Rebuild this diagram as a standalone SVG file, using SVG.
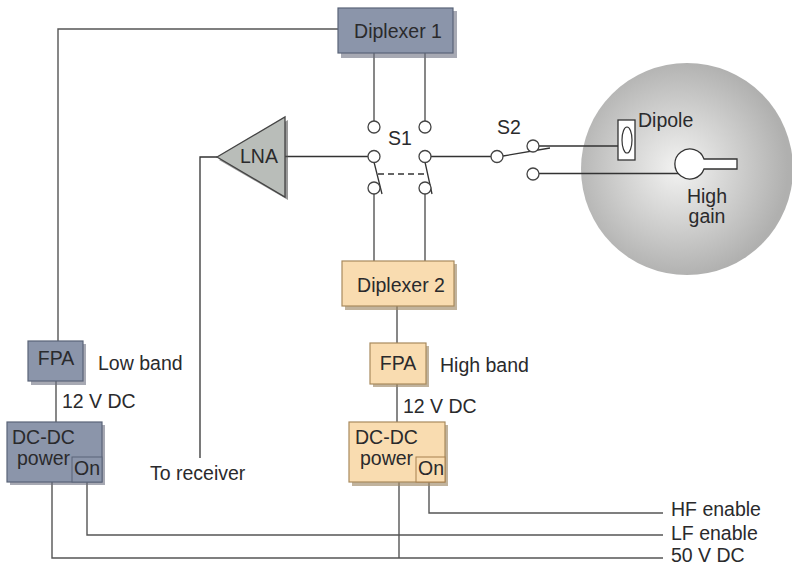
<svg xmlns="http://www.w3.org/2000/svg" width="792" height="566" viewBox="0 0 792 566">
<defs>
<radialGradient id="dish" gradientUnits="userSpaceOnUse" cx="678" cy="168" r="110">
<stop offset="0" stop-color="#f3f3f2"/><stop offset="0.5" stop-color="#d2d2d1"/><stop offset="1" stop-color="#b0b0af"/>
</radialGradient>
</defs>
<style>
text{font-family:"Liberation Sans",Arial,sans-serif;font-size:19.5px;fill:#2a2a2c}
.m{text-anchor:middle}
.w{fill:none;stroke:#555;stroke-width:1.4}
.t{fill:none;stroke:#333;stroke-width:1.3}
.c{fill:#fff;stroke:#444;stroke-width:1.3}
.sh{fill:#6d7080;opacity:.6}
.sho{fill:#a08a68;opacity:.65}
.b{fill:#8b95aa;stroke:#5a6478;stroke-width:1.2}
.o{fill:#f9dcb0;stroke:#a88a5e;stroke-width:1.2}
.bi{fill:#8b95aa;stroke:#5a6478;stroke-width:1}
.oi{fill:#f9dcb0;stroke:#a8804e;stroke-width:1}
</style>
<rect width="792" height="566" fill="#fff"/>
<g id="dish-disc"><circle cx="687" cy="169" r="106" fill="url(#dish)"/></g>
<g id="connectors">
<path class="w" d="M338 29H58V341"/>
<path class="w" d="M374 53V121M425 53V121M374 194V261M425 194V261"/>
<path class="t" d="M285 156.500H368M431 156.500H491"/>
<path class="t" d="M217 157H200V458"/>
<path class="t" d="M374 162L382 194M425 162L432 194"/>
<path class="t" d="M378 174H428" stroke-dasharray="6 4"/>
<path class="t" d="M503 156L550 148"/>
<path class="t" d="M534 146H618M539 173.500H680"/>
<path class="w" d="M397 306V343M397 384V422"/>
<path class="w" d="M56 381V422"/>
<path class="w" d="M429 482V513H663"/>
<path class="w" d="M87 482V535H663"/>
<path class="w" d="M52 482V558H663"/>
<path class="w" d="M399 482V558"/>
</g>
<g id="S1"><circle class="c" cx="374" cy="127" r="6"/><circle class="c" cx="425" cy="127" r="6"/><circle class="c" cx="374" cy="156.500" r="6"/><circle class="c" cx="425" cy="156.500" r="6"/><circle class="c" cx="374" cy="188" r="6"/><circle class="c" cx="425" cy="188" r="6"/><text x="388" y="145">S1</text></g>
<g id="S2"><circle class="c" cx="497" cy="156.500" r="6"/><circle class="c" cx="533" cy="146" r="6"/><circle class="c" cx="533" cy="174" r="6"/><text x="497" y="134">S2</text></g>
<g id="diplexer1"><rect class="sh" x="341" y="11" width="116" height="47"/><rect class="b" x="338" y="8" width="115" height="45"/><text class="m" x="398" y="38">Diplexer 1</text></g>
<g id="lna"><polygon points="219,160 288,120 288,200" fill="#555" opacity=".6"/><polygon points="217,157 285,117 285,197" fill="#b9bdb9" stroke="#444" stroke-width="1.3"/><text x="240" y="163">LNA</text></g>
<g id="dipole"><rect x="618" y="120" width="17" height="40" fill="#fff" stroke="#333" stroke-width="1.3"/><ellipse cx="627" cy="140" rx="5" ry="13" fill="none" stroke="#333" stroke-width="1.2"/><text x="638" y="127">Dipole</text></g>
<g id="high-gain"><path d="M704 159H737V169H704A15 15 0 1 1 704 159Z" fill="#fff" stroke="#333" stroke-width="1.3"/><text class="m" x="707" y="203">High</text><text class="m" x="707" y="223">gain</text></g>
<g id="diplexer2"><rect class="sho" x="345" y="264" width="112" height="46"/><rect class="o" x="342" y="261" width="112" height="45"/><text class="m" x="401" y="292">Diplexer 2</text></g>
<g id="fpa-high"><rect class="sho" x="373" y="346" width="56" height="41"/><rect class="o" x="370" y="343" width="56" height="41"/><text class="m" x="398" y="370">FPA</text><text x="440" y="372">High band</text></g>
<g id="dcdc-high"><rect class="sho" x="352" y="425" width="96" height="61"/><rect class="o" x="349" y="422" width="96" height="60"/><rect class="oi" x="416" y="457" width="29" height="25"/><text x="355" y="444">DC-DC</text><text x="360" y="465">power</text><text class="m" x="431" y="475">On</text></g>
<g id="fpa-low"><rect class="sh" x="31" y="344" width="55" height="41"/><rect class="b" x="28" y="341" width="55" height="40"/><text class="m" x="56" y="365">FPA</text><text x="98" y="370">Low band</text></g>
<g id="dcdc-low"><rect class="sh" x="10" y="425" width="95" height="60"/><rect class="b" x="7" y="422" width="95" height="60"/><rect class="bi" x="72" y="457" width="30" height="25"/><text x="12" y="444">DC-DC</text><text x="17" y="465">power</text><text class="m" x="87" y="475">On</text></g>
<g id="labels">
<text x="62" y="408">12 V DC</text><text x="403" y="413">12 V DC</text><text x="150" y="480">To receiver</text>
<text x="671" y="516">HF enable</text><text x="671" y="540">LF enable</text><text x="671" y="561.500">50 V DC</text>
</g>
</svg>
